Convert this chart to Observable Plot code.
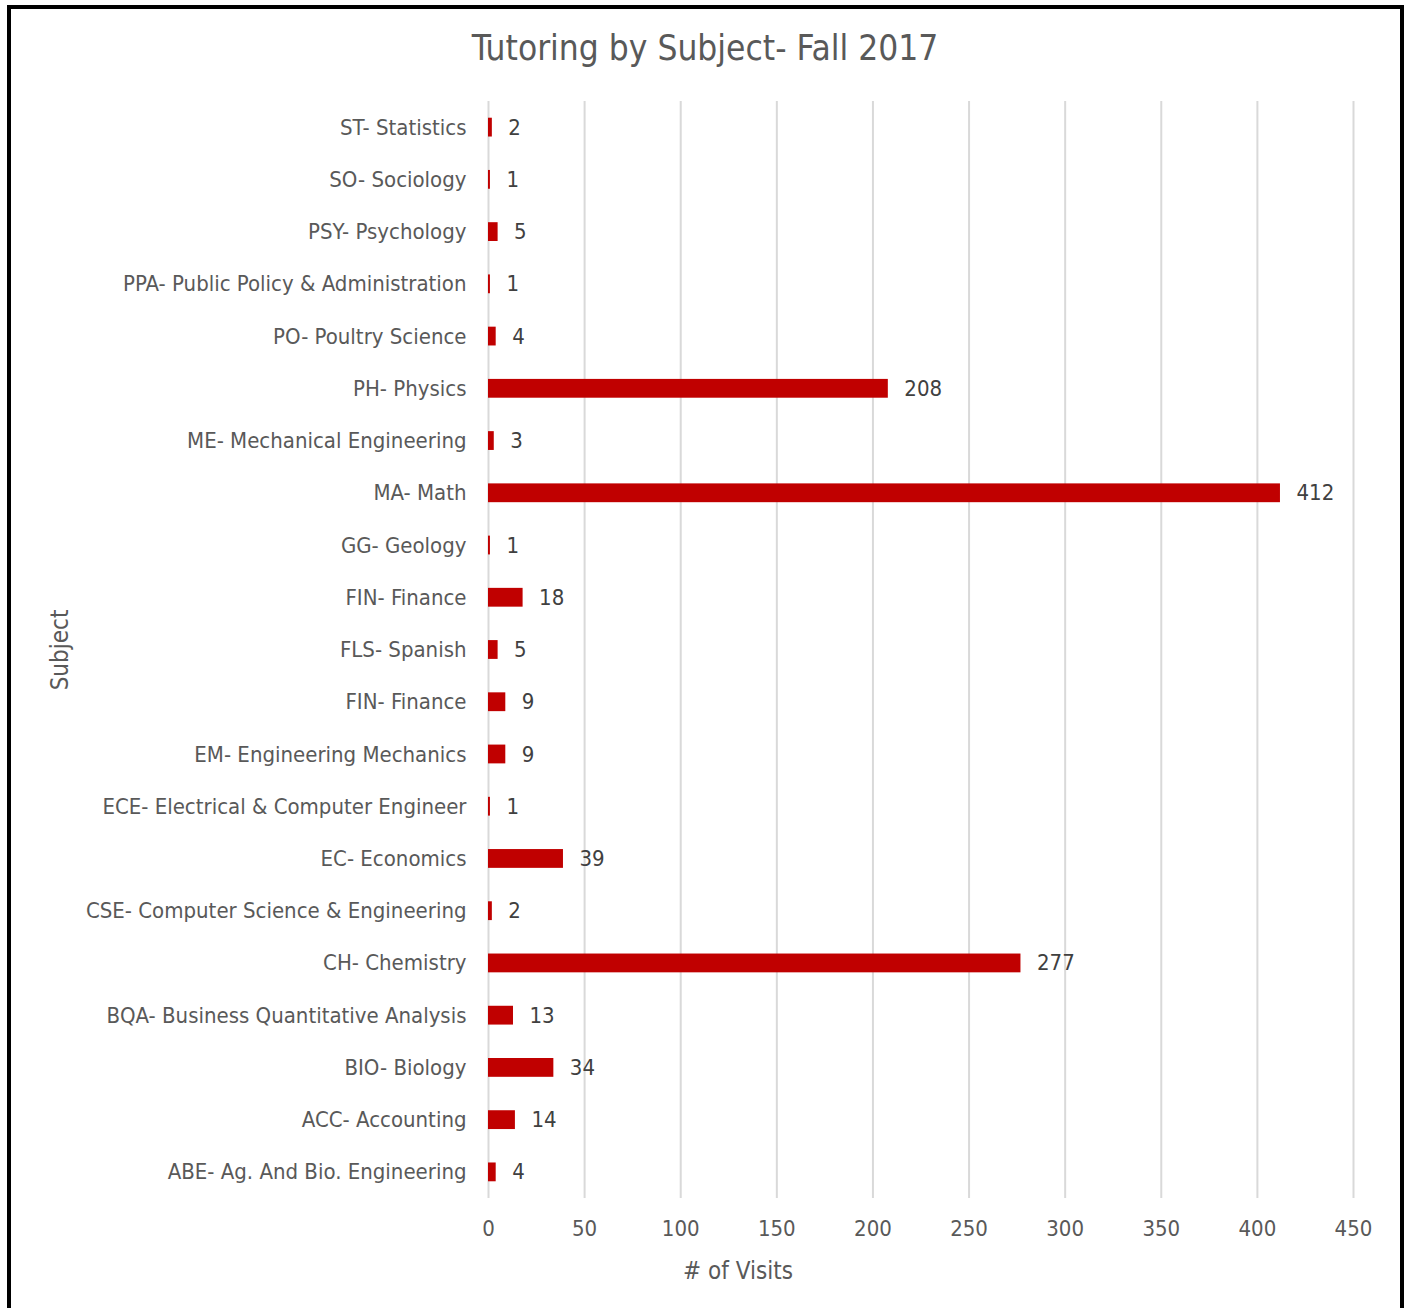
<!DOCTYPE html>
<html>
<head>
<meta charset="utf-8">
<script src="https://cdn.jsdelivr.net/npm/d3@7"></script>
<script src="https://cdn.jsdelivr.net/npm/@observablehq/plot@0.6"></script>
<style>
  html, body { margin: 0; padding: 0; background: #fff; }
  body { width: 1410px; height: 1308px; position: relative; overflow: hidden;
         font-family: "Liberation Sans Narrow", "DejaVu Sans Condensed", "Liberation Sans", sans-serif; }
  #frame { position: absolute; left: 7px; top: 5px; width: 1389px; height: 1400px;
           border: 4px solid #000; }
  #title { position: absolute; left: 0; width: 1410px; top: 23px; text-align: center;
           font-size: 35px; color: #595959; line-height: 50px; }
  #xlabel { position: absolute; left: 0; width: 1476px; top: 1255px; text-align: center;
            font-size: 24px; color: #595959; line-height: 32px; }
  #ylabel { position: absolute; left: 60px; top: 650px; font-size: 24px; color: #595959;
            transform: translate(-50%, -50%) rotate(-90deg); white-space: nowrap; line-height: 30px; }
  #chart { position: absolute; left: 0; top: 0; }
</style>
</head>
<body>
<div id="frame"></div>
<div id="chart"></div>
<div id="title">Tutoring by Subject- Fall 2017</div>
<div id="ylabel">Subject</div>
<div id="xlabel"># of Visits</div>
<script>
// Categories listed top to bottom as shown in the chart
const subjects = [
  "ST- Statistics",
  "SO- Sociology",
  "PSY- Psychology",
  "PPA- Public Policy & Administration",
  "PO- Poultry Science",
  "PH- Physics",
  "ME- Mechanical Engineering",
  "MA- Math",
  "GG- Geology",
  "FIN- Finance",
  "FLS- Spanish",
  "FIN- Finance",
  "EM- Engineering Mechanics",
  "ECE- Electrical & Computer Engineer",
  "EC- Economics",
  "CSE- Computer Science & Engineering",
  "CH- Chemistry",
  "BQA- Business Quantitative Analysis",
  "BIO- Biology",
  "ACC- Accounting",
  "ABE- Ag. And Bio. Engineering"
];
const visits = [2, 1, 5, 1, 4, 208, 3, 412, 1, 18, 5, 9, 9, 1, 39, 2, 277, 13, 34, 14, 4];
const xTicks = [0, 50, 100, 150, 200, 250, 300, 350, 400, 450];

const data = subjects.map((s, i) => ({key: String(i), label: s, value: visits[i]}));

const chart = Plot.plot({
  width: 1410,
  height: 1300,
  marginLeft: 488,
  marginRight: 57,
  marginTop: 101,
  marginBottom: 102,
  style: {
    fontFamily: '"Liberation Sans Narrow", "DejaVu Sans Condensed", "Liberation Sans", sans-serif',
    background: "transparent"
  },
  x: {domain: [0, 450], ticks: xTicks, label: null},
  y: {domain: data.map(d => d.key), paddingInner: 0.64, paddingOuter: 0.32, round: false, label: null},
  marks: [
    Plot.gridX(xTicks, {stroke: "#d9d9d9", strokeOpacity: 1, strokeWidth: 2}),
    Plot.barX(data, {x: "value", y: "key", fill: "#C00000"}),
    Plot.text(data, {x: "value", y: "key", text: d => String(d.value), dx: 16,
      textAnchor: "start", fontSize: 22, fill: "#404040"}),
    Plot.axisX(xTicks, {tickSize: 0, tickPadding: 22, fontSize: 22, color: "#595959", label: null}),
    Plot.axisY({tickSize: 0, tickPadding: 22, fontSize: 22, color: "#595959", label: null,
      tickFormat: k => subjects[+k]})
  ]
});
document.getElementById("chart").appendChild(chart);
</script>
</body>
</html>
